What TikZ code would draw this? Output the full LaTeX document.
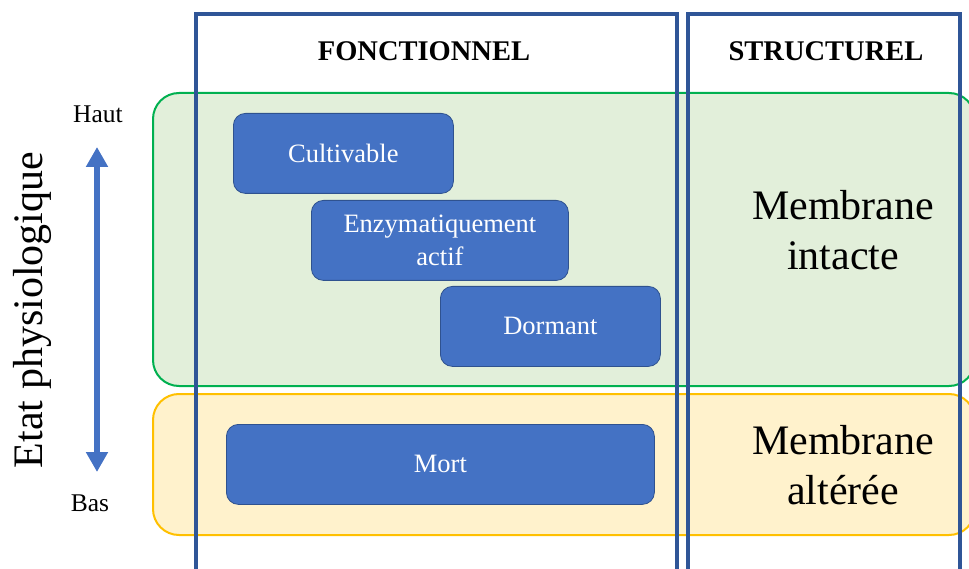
\documentclass[tikz,border=0pt]{standalone}
\usepackage{fontspec}
\setmainfont{Liberation Serif}
\usetikzlibrary{arrows.meta}
\definecolor{frameblue}{HTML}{2F5597}
\definecolor{boxblue}{HTML}{4472C4}
\definecolor{boxline}{HTML}{2F528F}
\definecolor{greenfill}{HTML}{E2EFDA}
\definecolor{greenline}{HTML}{00B050}
\definecolor{yellowfill}{HTML}{FFF2CC}
\definecolor{yellowline}{HTML}{FFC000}

\begin{document}
\begin{tikzpicture}[x=1pt,y=-1pt,
    region/.style ={draw, line width=2pt, rounded corners=26pt, inner sep=0pt, anchor=north west},
    state/.style ={draw=boxline, fill=boxblue, line width=0.8pt, rounded corners=12pt,
                   text=white, align=center, inner sep=0pt, minimum height=80pt,
                   font=\fontsize{26.5}{33}\selectfont, anchor=north west},
    column/.style ={draw=frameblue, line width=3.5pt},
    head/.style ={font=\fontsize{28.5}{32}\selectfont\bfseries},
    membrane/.style ={align=center, font=\fontsize{42}{50}\selectfont},
    axis/.style ={font=\fontsize{25.5}{30}\selectfont}]
   \useasboundingbox (0,0) rectangle (969,569);
   % zones
   \node[region, draw=greenline, fill=greenfill, minimum width=822pt, minimum height=293pt] (vivant) at (152,92) {};
   \node[region, draw=yellowline, fill=yellowfill, minimum width=822pt, minimum height=141pt] (altere) at (152,393) {};
   % colonnes
   \draw[column] (196,580) -- (196,14) -- (677,14) -- (677,580);
   \draw[column] (688,580) -- (688,14) -- (960,14) -- (960,580);
   \node[head] (fonc) at (424,51) {FONCTIONNEL};
   \node[head] (struct) at (826,51) {STRUCTUREL};
   % etats
   \node[state, minimum width=220pt] (cult) at (233,113) {Cultivable};
   \node[state, minimum width=257pt] (enzy) at (311,200) {Enzymatiquement\\actif};
   \node[state, minimum width=220pt] (dorm) at (440,286) {Dormant};
   \node[state, minimum width=428pt] (mort) at (226,424) {Mort};
   \node[membrane] (intacte) at (843,230) {Membrane\\intacte};
   \node[membrane] (alteree) at (843,465) {Membrane\\altérée};
   % axe
   \node[axis] (haut) at (98,114) {Haut};
   \node[axis] (bas) at (90,503) {Bas};
   \coordinate (axtop) at (97,147);
   \coordinate (axbot) at (97,472);
   \draw[boxblue, line width=6pt, {Triangle[width=21pt,length=20pt]}-{Triangle[width=21pt,length=20pt]}] (axtop) -- (axbot);
   \node[rotate=90, font=\fontsize{42}{48}\selectfont] (etat) at (32,310) {Etat physiologique};
 \end{tikzpicture}
\end{document}
